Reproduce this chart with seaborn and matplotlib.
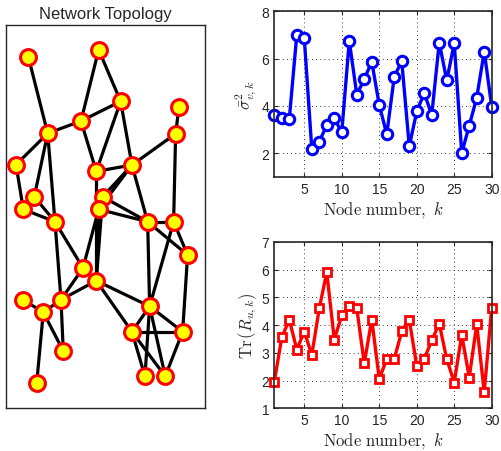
import numpy as np
import pandas as pd
import matplotlib
matplotlib.use("Agg")
import matplotlib.pyplot as plt
import seaborn as sns

# ---------------- data ----------------
node_k = list(range(1, 31))
noise_var = [3.63, 3.49, 3.45, 7.01, 6.86, 2.18, 2.49, 3.20, 3.48, 2.89,
             6.75, 4.48, 5.13, 5.87, 4.04, 2.80, 5.24, 5.89, 2.30, 3.77,
             4.55, 3.62, 6.68, 5.08, 6.65, 2.01, 3.17, 4.35, 6.30, 3.97]
trace_R = [1.96, 3.56, 4.20, 3.12, 3.77, 2.92, 4.61, 5.91, 3.48, 4.35,
           4.70, 4.61, 2.62, 4.20, 2.06, 2.78, 2.78, 3.78, 4.20, 2.53,
           2.78, 3.45, 4.05, 2.78, 1.93, 3.65, 2.11, 4.03, 1.58, 4.63]

node_names = ["A", "B", "C", "D", "E", "F", "G", "H", "I", "J", "K", "L", "M", "N", "O",
              "P", "Q", "R", "S", "T", "U", "V", "W", "X", "Y", "Z", "a", "b", "c", "d"]
node_x = [28.3, 98.7, 120.7, 179.0, 81.0, 47.7, 175.7, 16.0, 96.3, 132.0, 34.3, 23.3, 102.7, 98.7, 55.0,
          147.7, 173.7, 187.7, 83.0, 96.3, 23.0, 61.0, 43.3, 149.7, 132.0, 182.7, 63.3, 36.7, 145.0, 165.3]
node_y = [57.7, 50.7, 102.3, 108.3, 122.0, 134.3, 134.7, 165.7, 172.3, 166.0, 197.7, 210.3, 197.7, 210.3, 222.7,
          222.7, 222.7, 256.0, 269.0, 281.7, 300.7, 300.7, 313.3, 307.3, 332.7, 332.7, 352.0, 384.0, 377.3, 377.3]
edges = [("A", "F"), ("B", "E"), ("B", "C"), ("E", "F"), ("E", "C"), ("C", "I"), ("C", "J"),
         ("E", "I"), ("D", "G"), ("G", "J"), ("F", "H"), ("F", "K"), ("F", "O"), ("H", "L"),
         ("K", "O"), ("L", "O"), ("I", "J"), ("J", "M"), ("J", "N"), ("J", "P"), ("M", "P"),
         ("N", "P"), ("G", "Q"), ("P", "Q"), ("I", "T"), ("M", "T"), ("N", "T"), ("P", "X"),
         ("Q", "X"), ("P", "R"), ("Q", "R"), ("R", "Z"), ("O", "V"), ("O", "S"), ("N", "S"),
         ("S", "V"), ("T", "V"), ("T", "X"), ("T", "Y"), ("U", "W"), ("W", "V"), ("V", "a"),
         ("W", "a"), ("W", "b"), ("X", "Y"), ("X", "Z"), ("Y", "Z"), ("X", "c"), ("X", "d"),
         ("Y", "c"), ("Y", "d"), ("Z", "d")]

# ---------------- style ----------------
sns.set_style("ticks")
plt.rcParams["font.family"] = ["Liberation Sans", "DejaVu Sans"]
plt.rcParams["mathtext.fontset"] = "cm"
plt.rcParams["xtick.direction"] = "in"
plt.rcParams["ytick.direction"] = "in"

fig = plt.figure(figsize=(5.01, 4.52), dpi=100)

# ---------------- network ----------------
axn = fig.add_axes([0.012, 0.0945, 0.397, 0.8485])
pos = {n: (x, y) for n, x, y in zip(node_names, node_x, node_y)}
for a, b in edges:
    axn.plot([pos[a][0], pos[b][0]], [pos[a][1], pos[b][1]], color="black", lw=2.3,
             solid_capstyle="round", zorder=1)
nodes_df = pd.DataFrame({"x": node_x, "y": node_y})
sns.scatterplot(data=nodes_df, x="x", y="y", ax=axn, s=130, color="yellow",
                edgecolor="red", linewidth=2.2, zorder=3, legend=False)
axn.set_xlim(6, 205)
axn.set_ylim(409.3, 25.7)
axn.set_xticks([])
axn.set_yticks([])
axn.set_xlabel("")
axn.set_ylabel("")
for s in axn.spines.values():
    s.set_visible(True)
    s.set_linewidth(1.0)
axn.set_title("Network Topology", fontsize=12, pad=5)


def style_axes(ax, yticks, ylim):
    ax.set_xlim(1, 30)
    ax.set_ylim(*ylim)
    ax.set_xticks([5, 10, 15, 20, 25, 30])
    ax.set_yticks(yticks)
    ax.tick_params(labelsize=10, length=3, width=0.8, top=True, right=True)
    ax.grid(True, linestyle=(0, (1, 4)), color="black", linewidth=0.6)
    for s in ax.spines.values():
        s.set_visible(True)
        s.set_linewidth(1.2)
    ax.set_xlabel(r"$\mathrm{Node\ number,}\ k$", fontsize=12, labelpad=2)


# ---------------- top plot ----------------
ax1 = fig.add_axes([0.5475, 0.6062, 0.434, 0.3666])
df1 = pd.DataFrame({"k": node_k, "v": noise_var})
sns.lineplot(data=df1, x="k", y="v", ax=ax1, color="blue", lw=2.4, marker="o",
             ms=7.5, mfc="white", mec="blue", mew=2.2, clip_on=False)
style_axes(ax1, [2, 4, 6, 8], (1, 8))
ax1.set_ylabel(r"$\bar{\sigma}^2_{v,k}$", fontsize=12, labelpad=2)

# ---------------- bottom plot ----------------
ax2 = fig.add_axes([0.5475, 0.0945, 0.434, 0.3679])
df2 = pd.DataFrame({"k": node_k, "v": trace_R})
sns.lineplot(data=df2, x="k", y="v", ax=ax2, color="red", lw=2.4, marker="s",
             ms=5.5, mfc="white", mec="red", mew=2.0, clip_on=False)
style_axes(ax2, [1, 2, 3, 4, 5, 6, 7], (1, 7))
ax2.set_ylabel(r"$\mathrm{Tr}\,(R_{u,k})$", fontsize=12, labelpad=2)

fig.savefig("out.png", dpi=100)
